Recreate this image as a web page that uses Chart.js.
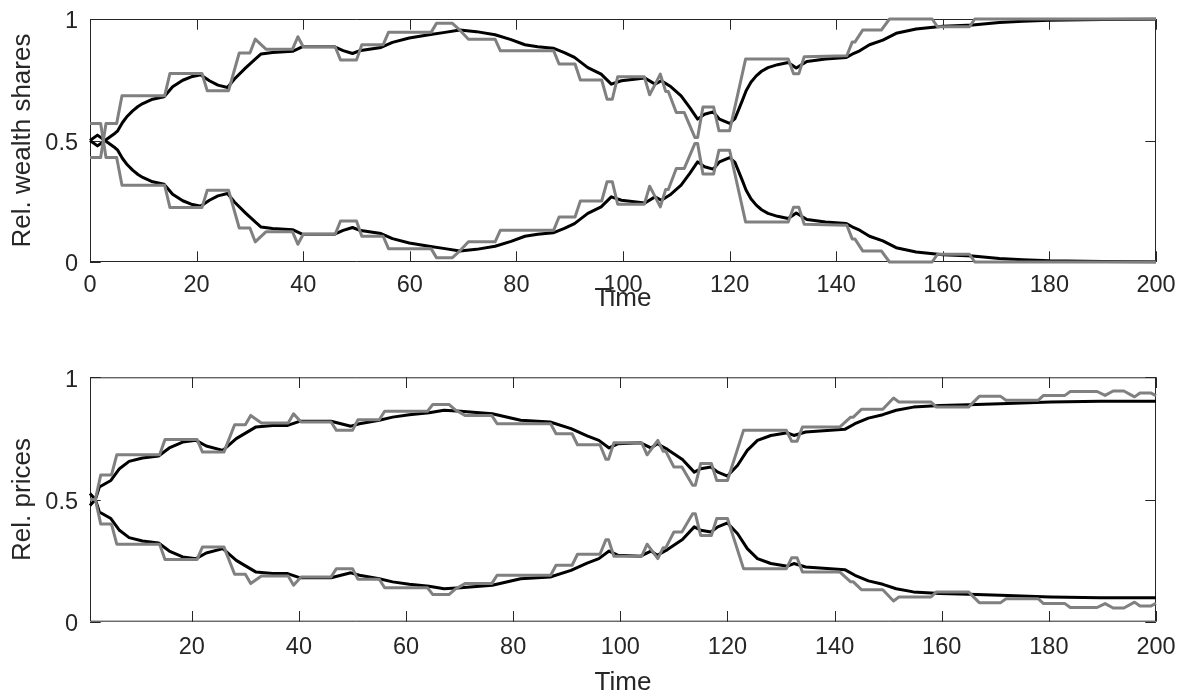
<!DOCTYPE html>
<html>
<head>
<meta charset="utf-8">
<script src="https://cdn.jsdelivr.net/npm/chart.js@4.4.1/dist/chart.umd.min.js"></script>
<style>
  html, body { margin: 0; padding: 0; background: #ffffff; overflow: hidden; width: 1177px; height: 694px; }
  canvas { position: absolute; left: 0; }
  #wealth { top: 0; }
  #prices { top: 340px; }
</style>
</head>
<body>
<canvas id="wealth" width="1177" height="340"></canvas>
<canvas id="prices" width="1177" height="380"></canvas>
<script>
// ---------------- DATA ----------------
const yTicks = [0, 0.5, 1];
const yTickLabels = ['0', '0.5', '1'];
const wealthXTicks = [0, 20, 40, 60, 80, 100, 120, 140, 160, 180, 200];
const priceXTicks = [20, 40, 60, 80, 100, 120, 140, 160, 180, 200];

// Top panel: relative wealth shares
const wealthBlackT = [0,1.4,2.8,4.7,5.2,6.1,7,8,9,9.9,11.75,13.9,15.5,17.4,19,20.8,22.4,24,25.8,27.1,29.25,31,32.1,34.25,38,39.9,45.8,47.5,49.25,50.5,54.6,56.75,59.9,63.6,66.6,69.4,72.5,76,79,81.6,84,86.9,89,90.9,93.4,95.9,97.8,99.7,104.1,106,107.2,109,110.9,112.5,114,115.3,116.9,118.1,120,121,121.6,122.4,123.1,124,125,126,127.2,129,131,132.5,134.5,138,141.9,143,144.4,146.25,148.75,151.25,155,160,165.6,170.6,175,180,190,200];
const wealthBlackUp = [0.5,0.478,0.5,0.53,0.54,0.574,0.6,0.622,0.64,0.652,0.67,0.68,0.721,0.748,0.762,0.77,0.746,0.728,0.718,0.753,0.8,0.835,0.856,0.862,0.867,0.886,0.886,0.87,0.858,0.869,0.883,0.904,0.922,0.935,0.945,0.955,0.948,0.935,0.915,0.894,0.886,0.88,0.862,0.842,0.8,0.773,0.732,0.746,0.757,0.732,0.746,0.721,0.684,0.636,0.588,0.608,0.618,0.588,0.57,0.59,0.622,0.665,0.705,0.74,0.766,0.785,0.8,0.812,0.821,0.798,0.825,0.835,0.842,0.855,0.869,0.894,0.913,0.941,0.959,0.97,0.975,0.986,0.991,0.995,0.998,0.999];
const wealthBlackLow = [0.5,0.522,0.5,0.47,0.46,0.426,0.4,0.378,0.36,0.348,0.33,0.32,0.279,0.252,0.238,0.23,0.254,0.272,0.282,0.247,0.2,0.165,0.144,0.138,0.133,0.114,0.114,0.13,0.142,0.131,0.117,0.096,0.078,0.065,0.055,0.045,0.052,0.065,0.085,0.106,0.114,0.12,0.138,0.158,0.2,0.227,0.268,0.254,0.243,0.268,0.254,0.279,0.316,0.364,0.412,0.392,0.382,0.412,0.43,0.41,0.378,0.335,0.295,0.26,0.234,0.215,0.2,0.188,0.179,0.202,0.175,0.165,0.158,0.145,0.131,0.106,0.087,0.059,0.041,0.03,0.025,0.014,0.009,0.005,0.002,0.001];
const wealthGrayT = [0,2,3,5,6,14,15,21,22,26,28,30,31,33,38,39,40,46,47,50,51,55,56,64,65,68,69.5,71,76,77,87,88,91,92,96,97,98,99,104,105,106,107,108,108.5,110,111.5,113.5,114,115,117,118,120,123,131,132,133,134,142,143,143.5,145,148.5,150,158,159,165,166,200];
const wealthGrayUp = [0.43,0.43,0.57,0.57,0.684,0.684,0.776,0.776,0.705,0.705,0.86,0.86,0.917,0.876,0.876,0.927,0.886,0.886,0.831,0.831,0.894,0.894,0.945,0.945,0.982,0.982,0.952,0.917,0.917,0.869,0.869,0.815,0.815,0.749,0.749,0.67,0.67,0.762,0.762,0.688,0.73,0.773,0.702,0.702,0.615,0.615,0.512,0.512,0.638,0.638,0.54,0.54,0.835,0.835,0.775,0.775,0.845,0.849,0.905,0.905,0.955,0.955,1,1,0.968,0.968,1,1];
const wealthGrayLow = [0.57,0.57,0.43,0.43,0.316,0.316,0.224,0.224,0.295,0.295,0.14,0.14,0.083,0.124,0.124,0.073,0.114,0.114,0.169,0.169,0.106,0.106,0.055,0.055,0.018,0.018,0.048,0.083,0.083,0.131,0.131,0.185,0.185,0.251,0.251,0.33,0.33,0.238,0.238,0.312,0.27,0.227,0.298,0.298,0.385,0.385,0.488,0.488,0.362,0.362,0.46,0.46,0.165,0.165,0.225,0.225,0.155,0.151,0.095,0.095,0.045,0.045,0,0,0.032,0.032,0,0];

// Bottom panel: relative prices
const priceBlackT = [1,2,2.75,4.9,6.5,8.3,10.8,13.8,15.8,18.3,20.8,22.7,25.8,28.3,32,35.1,37.9,40.1,46,49.7,51.3,55,57.5,60.6,64.3,67.1,70.2,76.1,81.4,86.9,90.8,93.8,96,97.9,99.5,103.8,105.7,106.9,108.8,111.6,113.8,115,116.9,118.2,120,121.9,123.7,125.6,128.1,131.2,132.4,134.6,141.9,143.8,146.3,149,151.5,154.7,159.7,165,170.9,180.3,189.6,200];
const priceBlackUp = [0.475,0.5,0.551,0.578,0.626,0.656,0.67,0.678,0.711,0.735,0.742,0.719,0.701,0.749,0.797,0.803,0.803,0.82,0.82,0.8,0.81,0.824,0.837,0.847,0.855,0.865,0.861,0.851,0.824,0.817,0.79,0.76,0.742,0.711,0.728,0.732,0.711,0.728,0.705,0.664,0.612,0.626,0.633,0.612,0.596,0.64,0.701,0.742,0.762,0.773,0.762,0.776,0.787,0.81,0.833,0.847,0.865,0.878,0.885,0.888,0.892,0.899,0.902,0.902];
const priceBlackLow = [0.525,0.5,0.449,0.422,0.374,0.344,0.33,0.322,0.289,0.265,0.258,0.281,0.299,0.251,0.203,0.197,0.197,0.18,0.18,0.2,0.19,0.176,0.163,0.153,0.145,0.135,0.139,0.149,0.176,0.183,0.21,0.24,0.258,0.289,0.272,0.268,0.289,0.272,0.295,0.336,0.388,0.374,0.367,0.388,0.404,0.36,0.299,0.258,0.238,0.227,0.238,0.224,0.213,0.19,0.167,0.153,0.135,0.122,0.115,0.112,0.108,0.101,0.098,0.098];
const priceGrayT = [1,2,3,5,6,14,15,21,22,26,28,30,31,33,38,39,40.4,46,47,50,51,55,56,64,65,68,69.3,71,76,77,87,88,91,92,96.2,97.3,97.8,98.8,104,105,107,108,108.5,110,111.5,113.5,114,115,117,118,120,123,131,132,133,134,141,143,143.5,145,149,151,152,158,159,165,167,171,172,178,179,183,184,189,190.5,192,194,196,197,199,200];
const priceGrayUp = [0.5,0.5,0.6,0.6,0.683,0.683,0.745,0.745,0.694,0.694,0.806,0.806,0.844,0.813,0.813,0.851,0.817,0.817,0.783,0.783,0.826,0.826,0.861,0.861,0.889,0.889,0.865,0.844,0.844,0.81,0.81,0.769,0.769,0.724,0.724,0.665,0.665,0.732,0.732,0.683,0.742,0.697,0.697,0.633,0.633,0.558,0.558,0.647,0.647,0.578,0.578,0.783,0.783,0.738,0.738,0.797,0.797,0.837,0.837,0.869,0.869,0.915,0.899,0.899,0.878,0.878,0.922,0.922,0.906,0.906,0.926,0.926,0.942,0.942,0.926,0.944,0.944,0.92,0.936,0.936,0.925];
const priceGrayLow = [0.5,0.5,0.4,0.4,0.317,0.317,0.255,0.255,0.306,0.306,0.194,0.194,0.156,0.187,0.187,0.149,0.183,0.183,0.217,0.217,0.174,0.174,0.139,0.139,0.111,0.111,0.135,0.156,0.156,0.19,0.19,0.231,0.231,0.276,0.276,0.335,0.335,0.268,0.268,0.317,0.258,0.303,0.303,0.367,0.367,0.442,0.442,0.353,0.353,0.422,0.422,0.217,0.217,0.262,0.262,0.203,0.203,0.163,0.163,0.131,0.131,0.085,0.101,0.101,0.122,0.122,0.078,0.078,0.094,0.094,0.074,0.074,0.058,0.058,0.074,0.056,0.056,0.08,0.064,0.064,0.075];

// ---------------- STYLE ----------------
const AXIS_COLOR = '#262626';
const BLACK = '#000000';
const GRAY = '#808080';
const FONT = "'Liberation Sans', Arial, Helvetica, sans-serif";
const TICK_SIZE = 23.5;
const LABEL_SIZE = 26;
const TICK_LEN = 10.7;

Chart.defaults.font.family = FONT;
Chart.defaults.color = AXIS_COLOR;

function series(t, v) { return t.map((x, i) => ({ x: x, y: v[i] })); }

function zeroPadding(s) {
  s.paddingLeft = 0; s.paddingRight = 0; s.paddingTop = 0; s.paddingBottom = 0;
}

const framePlugin = {
  id: 'frame',
  beforeDatasetsDraw(chart) {
    const { ctx, chartArea: a } = chart;
    const xs = chart.scales.x, ys = chart.scales.y;
    ctx.save();
    ctx.strokeStyle = AXIS_COLOR;
    ctx.lineWidth = 1;
    ctx.beginPath();
    ctx.rect(a.left + 0.5, a.top + 0.5, a.right - a.left - 1, a.bottom - a.top - 1);
    xs.ticks.forEach(t => {
      const p = Math.round(xs.getPixelForValue(t.value)) + 0.5;
      ctx.moveTo(p, a.bottom); ctx.lineTo(p, a.bottom - TICK_LEN);
      ctx.moveTo(p, a.top); ctx.lineTo(p, a.top + TICK_LEN);
    });
    ys.ticks.forEach(t => {
      const p = Math.round(ys.getPixelForValue(t.value)) + 0.5;
      ctx.moveTo(a.left, p); ctx.lineTo(a.left + TICK_LEN, p);
      ctx.moveTo(a.right, p); ctx.lineTo(a.right - TICK_LEN, p);
    });
    ctx.stroke();
    ctx.restore();
  }
};

function lineDs(data, color, order) {
  return {
    data: data, borderColor: color, borderWidth: 3, pointRadius: 0, tension: 0,
    fill: false, order: order, clip: 6, borderJoinStyle: 'round', borderCapStyle: 'butt'
  };
}

function buildChart(id, cfg) {
  return new Chart(document.getElementById(id), {
    type: 'line',
    data: {
      datasets: [
        lineDs(series(cfg.grayT, cfg.grayUp), GRAY, 0),
        lineDs(series(cfg.grayT, cfg.grayLow), GRAY, 0),
        lineDs(series(cfg.blackT, cfg.blackUp), BLACK, 1),
        lineDs(series(cfg.blackT, cfg.blackLow), BLACK, 1)
      ]
    },
    options: {
      responsive: false,
      animation: false,
      devicePixelRatio: 1,
      events: [],
      layout: { padding: { left: 0, right: 21, top: cfg.padTop, bottom: 0 } },
      plugins: { legend: { display: false }, tooltip: { enabled: false } },
      scales: {
        x: {
          type: 'linear', position: 'bottom', min: cfg.xMin, max: cfg.xMax,
          afterBuildTicks: s => { s.ticks = cfg.xTicks.map(v => ({ value: v })); },
          afterFit: s => { s.height = cfg.xAxisH; zeroPadding(s); },
          grid: { display: false, drawTicks: false },
          border: { display: false },
          ticks: { font: { size: TICK_SIZE }, color: AXIS_COLOR, padding: cfg.xTickPad,
                   maxRotation: 0, autoSkip: false, callback: v => String(v) },
          title: { display: true, text: 'Time', font: { size: LABEL_SIZE }, color: AXIS_COLOR,
                   padding: { top: 0, bottom: cfg.titlePad } }
        },
        y: {
          type: 'linear', position: 'left', min: 0, max: 1,
          afterBuildTicks: s => { s.ticks = yTicks.map(v => ({ value: v })); },
          afterFit: s => { s.width = 90; zeroPadding(s); },
          grid: { display: false, drawTicks: false },
          border: { display: false },
          ticks: { font: { size: TICK_SIZE }, color: AXIS_COLOR, padding: 12, labelOffset: 3,
                   callback: v => yTickLabels[yTicks.indexOf(v)] },
          title: { display: true, text: cfg.yTitle, font: { size: LABEL_SIZE }, color: AXIS_COLOR,
                   padding: { top: 7, bottom: 0 } }
        }
      }
    },
    plugins: [framePlugin]
  });
}

buildChart('wealth', {
  grayT: wealthGrayT, grayUp: wealthGrayUp, grayLow: wealthGrayLow,
  blackT: wealthBlackT, blackUp: wealthBlackUp, blackLow: wealthBlackLow,
  xMin: 0, xMax: 200, xTicks: wealthXTicks,
  padTop: 19, xAxisH: 78, xTickPad: 9, titlePad: 25.4,
  yTitle: 'Rel. wealth shares'
});

buildChart('prices', {
  grayT: priceGrayT, grayUp: priceGrayUp, grayLow: priceGrayLow,
  blackT: priceBlackT, blackUp: priceBlackUp, blackLow: priceBlackLow,
  xMin: 1, xMax: 200, xTicks: priceXTicks,
  padTop: 37.3, xAxisH: 98.3, xTickPad: 11.7, titlePad: 21.4,
  yTitle: 'Rel. prices'
});
</script>
</body>
</html>
